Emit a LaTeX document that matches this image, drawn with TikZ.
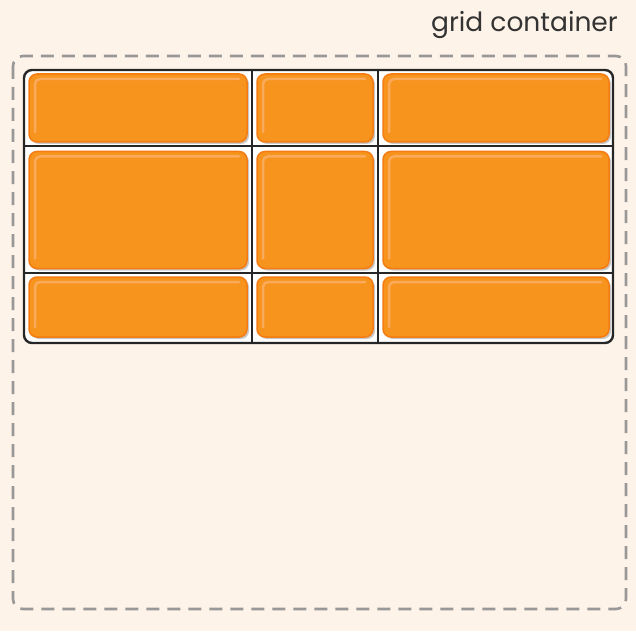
\documentclass[tikz,border=0pt]{standalone}
\usepackage{fontspec}
\setmainfont{Poppins}
\usetikzlibrary{calc}
\definecolor{bgcream}{HTML}{FEF3E8}
\definecolor{itemorange}{HTML}{F7941D}
\definecolor{itemedge}{HTML}{F47C13}
\definecolor{itemlight}{HTML}{F9AA5A}
\definecolor{dashgray}{HTML}{989898}
\definecolor{shadegray}{HTML}{C8C8C8}
\tikzstyle{container} = [draw=dashgray, line width=2.6pt, dash pattern=on 13pt off 8pt, rounded corners=10pt]
\tikzstyle{gridbox} = [draw=black!85, fill=white, line width=2.4pt, rounded corners=8pt]
\tikzstyle{gridline} = [draw=black!85, line width=2.4pt]
\tikzstyle{item} = [draw=itemedge, fill=itemorange, line width=1.5pt, rectangle, rounded corners=8pt, inner sep=0pt,
    preaction={fill=shadegray, transform canvas={shift={(2pt,-2pt)}}},
    path picture={\draw[itemlight, line width=2.5pt, rounded corners=5pt, line cap=round]
        ($(path picture bounding box.south west)+(6pt,10pt)$) |- ($(path picture bounding box.north east)+(-8pt,-5pt)$);}]

\begin{document}
\begin{tikzpicture}[x=1pt, y=-1pt]
        \fill[bgcream] (0,0) rectangle (636,631);
        \useasboundingbox (0,0) rectangle (636,631);
        \node[anchor=base east, font=\fontsize{26.5}{30}\selectfont, text=black!80, inner sep=0pt] (title) at (618,32) {grid container};
        \draw[container] (13,56) rectangle (626,609);
        % grid tracks
        \draw[gridbox] (24,70) rectangle (613,343);
        \coordinate (c1) at (252,70);
        \coordinate (c2) at (378,70);
        \coordinate (r1) at (24,146);
        \coordinate (r2) at (24,273);
        \path[gridline] (c1) -- (c1 |- 0,343);
        \path[gridline] (c2) -- (c2 |- 0,343);
        \path[gridline] (r1) -- (r1 -| 613,0);
        \path[gridline] (r2) -- (r2 -| 613,0);
        % grid items
        \node[item, minimum width=218pt, minimum height=68pt] (a1) at (138,108) {};
        \node[item, minimum width=116pt, minimum height=68pt] (a2) at (315,108) {};
        \node[item, minimum width=226pt, minimum height=68pt] (a3) at (496,108) {};
        \node[item, minimum width=218pt, minimum height=117pt] (b1) at (138,210) {};
        \node[item, minimum width=116pt, minimum height=117pt] (b2) at (315,210) {};
        \node[item, minimum width=226pt, minimum height=117pt] (b3) at (496,210) {};
        \node[item, minimum width=218pt, minimum height=60pt] (d1) at (138,307) {};
        \node[item, minimum width=116pt, minimum height=60pt] (d2) at (315,307) {};
        \node[item, minimum width=226pt, minimum height=60pt] (d3) at (496,307) {};
    \end{tikzpicture}
\end{document}
